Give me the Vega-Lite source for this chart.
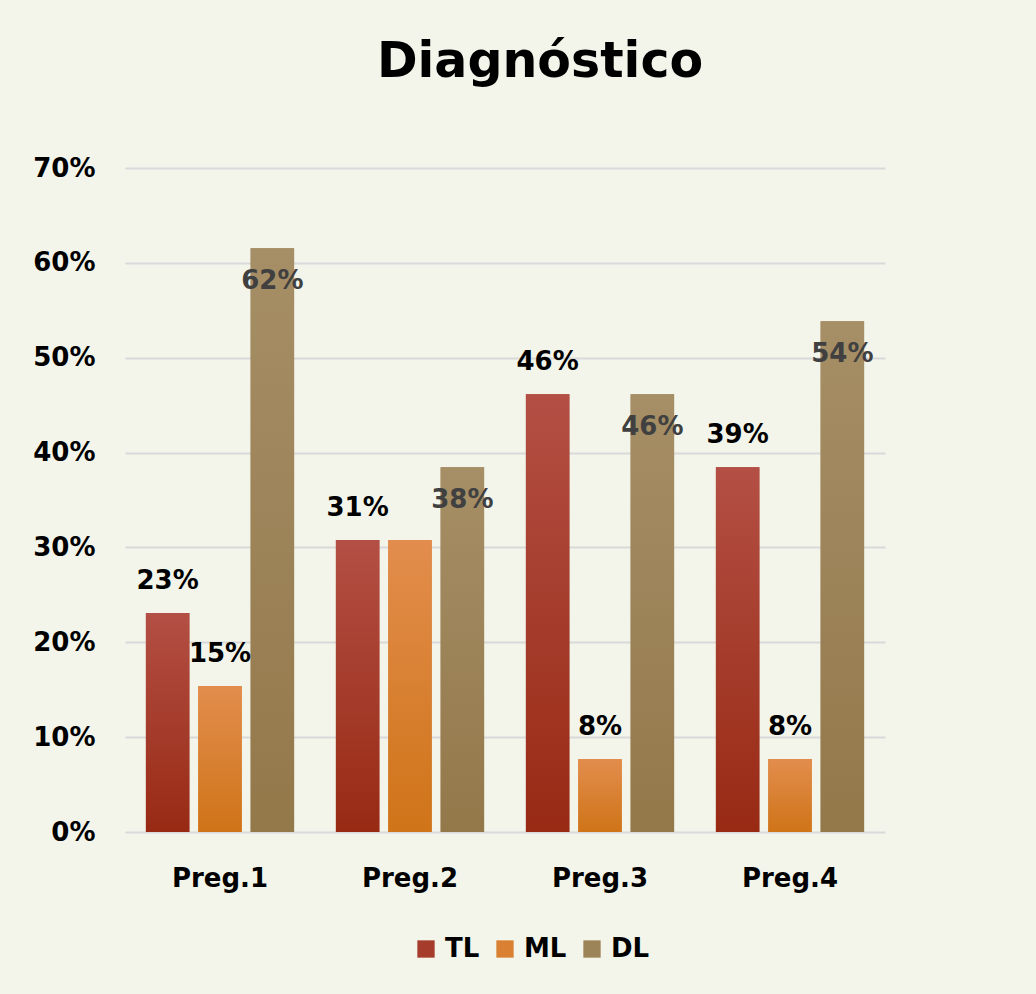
{
  "$schema": "https://vega.github.io/schema/vega-lite/v6.json",
  "width": 760,
  "height": 664,
  "autosize": "none",
  "padding": {"left": 125, "top": 168, "right": 151, "bottom": 162},
  "background": "#f3f5eb",
  "title": {
    "text": "Diagnóstico",
    "fontSize": 49,
    "font": "DejaVu Sans",
    "fontWeight": "bold",
    "color": "#000000",
    "anchor": "middle",
    "dx": 35,
    "offset": 68
  },
  "data": {
    "values": [
      {"pregunta": "Preg.1", "serie": "TL", "valor": 0.2308, "etiqueta": "23%"},
      {"pregunta": "Preg.1", "serie": "ML", "valor": 0.1538, "etiqueta": "15%"},
      {"pregunta": "Preg.1", "serie": "DL", "valor": 0.6154, "etiqueta": "62%"},
      {"pregunta": "Preg.2", "serie": "TL", "valor": 0.3077, "etiqueta": "31%"},
      {"pregunta": "Preg.2", "serie": "ML", "valor": 0.3077, "etiqueta": ""},
      {"pregunta": "Preg.2", "serie": "DL", "valor": 0.3846, "etiqueta": "38%"},
      {"pregunta": "Preg.3", "serie": "TL", "valor": 0.4615, "etiqueta": "46%"},
      {"pregunta": "Preg.3", "serie": "ML", "valor": 0.0769, "etiqueta": "8%"},
      {"pregunta": "Preg.3", "serie": "DL", "valor": 0.4615, "etiqueta": "46%"},
      {"pregunta": "Preg.4", "serie": "TL", "valor": 0.3846, "etiqueta": "39%"},
      {"pregunta": "Preg.4", "serie": "ML", "valor": 0.0769, "etiqueta": "8%"},
      {"pregunta": "Preg.4", "serie": "DL", "valor": 0.5385, "etiqueta": "54%"}
    ]
  },
  "encoding": {
    "x": {
      "field": "pregunta",
      "type": "nominal",
      "scale": {"paddingInner": 0.22, "paddingOuter": 0.11},
      "axis": {
        "title": null,
        "labelAngle": 0,
        "labelFont": "DejaVu Sans",
        "labelFontWeight": "bold",
        "labelFontSize": 26,
        "labelColor": "#000000",
        "labelPadding": 33,
        "ticks": false,
        "domain": false
      }
    },
    "xOffset": {
      "field": "serie",
      "type": "nominal",
      "sort": ["TL", "ML", "DL"],
      "scale": {"paddingInner": 0.17, "paddingOuter": 0}
    },
    "y": {
      "field": "valor",
      "type": "quantitative",
      "scale": {"domain": [0, 0.7], "nice": false},
      "axis": {
        "title": null,
        "format": ".0%",
        "values": [0, 0.1, 0.2, 0.3, 0.4, 0.5, 0.6, 0.7],
        "labelFont": "DejaVu Sans",
        "labelFontWeight": "bold",
        "labelFontSize": 26,
        "labelColor": "#000000",
        "labelPadding": 30,
        "ticks": false,
        "domain": false,
        "grid": true,
        "gridColor": "#d9d9d9",
        "gridWidth": 2
      }
    }
  },
  "layer": [
    {
      "mark": {"type": "bar"},
      "encoding": {
        "color": {
          "field": "serie",
          "type": "nominal",
          "sort": ["TL", "ML", "DL"],
          "scale": {
            "domain": ["TL", "ML", "DL"],
            "range": ["#a63c2c", "#d98032", "#9d8358"]
          },
          "legend": {
            "title": null,
            "orient": "none",
            "direction": "horizontal",
            "legendX": 288,
            "legendY": 768,
            "symbolType": "square",
            "symbolSize": 300,
            "symbolStrokeWidth": 0,
            "symbolOpacity": 1,
            "labelFont": "DejaVu Sans",
            "labelFontWeight": "bold",
            "labelFontSize": 26,
            "labelColor": "#000000",
            "columnPadding": 12,
            "labelOffset": 6
          }
        }
      }
    },
    {
      "transform": [{"filter": "datum.serie === 'TL'"}],
      "mark": {
        "type": "bar",
        "fill": {"gradient": "linear", "x1": 0, "y1": 0, "x2": 0, "y2": 1, "stops": [{"offset": 0, "color": "#b34f44"}, {"offset": 1, "color": "#982a14"}]}
      }
    },
    {
      "transform": [{"filter": "datum.serie === 'ML'"}],
      "mark": {
        "type": "bar",
        "fill": {"gradient": "linear", "x1": 0, "y1": 0, "x2": 0, "y2": 1, "stops": [{"offset": 0, "color": "#e28d4d"}, {"offset": 1, "color": "#cf7418"}]}
      }
    },
    {
      "transform": [{"filter": "datum.serie === 'DL'"}],
      "mark": {
        "type": "bar",
        "fill": {"gradient": "linear", "x1": 0, "y1": 0, "x2": 0, "y2": 1, "stops": [{"offset": 0, "color": "#a68e66"}, {"offset": 1, "color": "#93784a"}]}
      }
    },
    {
      "transform": [{"filter": "datum.serie !== 'DL'"}],
      "mark": {
        "type": "text",
        "baseline": "middle",
        "dy": -32,
        "font": "DejaVu Sans",
        "fontWeight": "bold",
        "fontSize": 26,
        "color": "#000000"
      },
      "encoding": {"text": {"field": "etiqueta"}}
    },
    {
      "transform": [{"filter": "datum.serie === 'DL'"}],
      "mark": {
        "type": "text",
        "baseline": "middle",
        "dy": 33,
        "font": "DejaVu Sans",
        "fontWeight": "bold",
        "fontSize": 26,
        "color": "#404040"
      },
      "encoding": {"text": {"field": "etiqueta"}}
    }
  ],
  "config": {
    "view": {"stroke": null}
  }
}
